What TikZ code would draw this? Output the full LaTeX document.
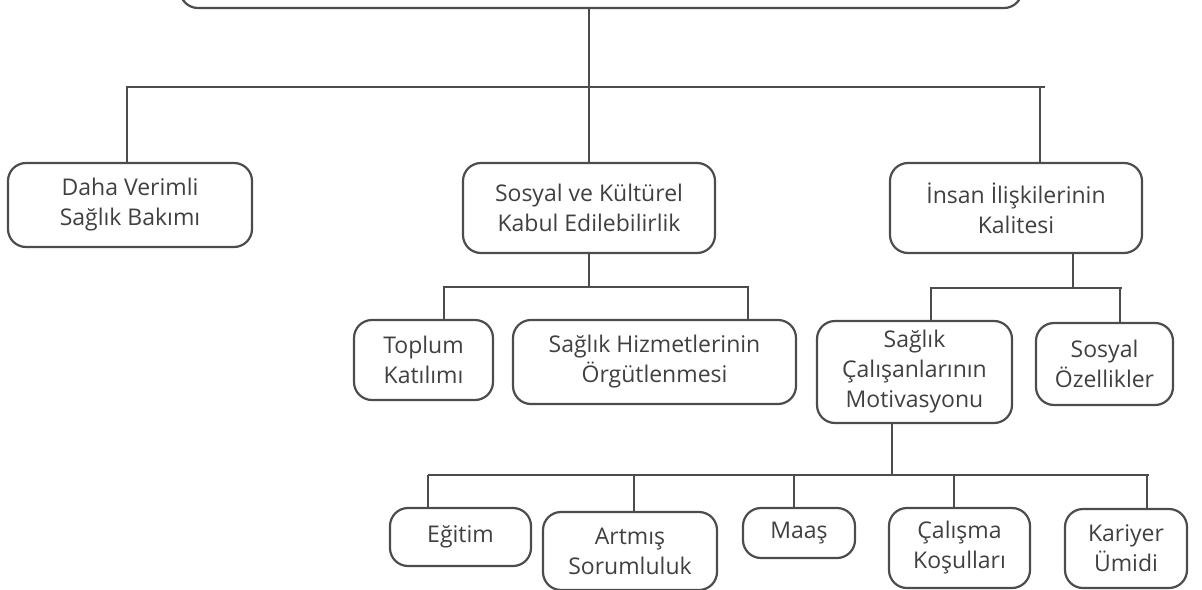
\documentclass[tikz,border=0pt]{standalone}
\usepackage{fontspec}
\setmainfont{Open Sans}
\begin{document}
\begin{tikzpicture}[x=1pt,y=-1pt,
    kutu/.style={draw=black!70,line width=2.2pt,rounded corners=18pt,text=black!75,
      align=center,inner sep=0pt,font=\fontsize{23}{30}\selectfont},
    bag/.style={draw=black!70,line width=2.2pt}]
    \useasboundingbox (0,0) rectangle (1202,589);
    \clip (0,0) rectangle (1202,589);

    \foreach \n/\x/\y/\w/\h/\t in {
        ust/601/-16/842/48/{},
        daha/130/205/244/84/{Daha Verimli\\Sağlık Bakımı},
        sosyal/589/208/252/90/{Sosyal ve Kültürel\\Kabul Edilebilirlik},
        insan/1016/208/252/90/{İnsan İlişkilerinin\\Kalitesi},
        toplum/423.5/360/139/80/{Toplum\\Katılımı},
        hizmet/654.5/362/283/84/{Sağlık Hizmetlerinin\\Örgütlenmesi},
        motiv/914.5/372/195/102/{Sağlık\\Çalışanlarının\\Motivasyonu},
        ozellik/1104.5/364/137/82/{Sosyal\\Özellikler},
        egitim/460.5/537/141/58/{Eğitim},
        artmis/630/551/174/78/{Artmış\\Sorumluluk},
        maas/799/533/112/50/{Maaş},
        calisma/959.5/548/141/80/{Çalışma\\Koşulları},
        kariyer/1126/548.5/122/79/{Kariyer\\Ümidi}} {
      \node[kutu,minimum width=\w,minimum height=\h] (\n) at (\x,\y) {\t};
    }

    \coordinate (a1) at (127,87);
    \coordinate (a2) at (1045,87);
    \coordinate (a3) at (1040,87);
    \draw[bag] (ust.south -| sosyal.north) -- (sosyal.north);
    \draw[bag] (daha.north -| a1) -- (a1) -- (a2);
    \draw[bag] (a3) -- (a3 |- insan.north);

    \coordinate (b1) at (444,287);
    \coordinate (b2) at (748,287);
    \draw[bag] (sosyal.south) -- (sosyal.south |- b1);
    \draw[bag] (toplum.north -| b1) -- (b1) -- (b2) -- (b2 |- hizmet.north);

    \coordinate (c0) at (1073,288);
    \coordinate (c1) at (931,288);
    \coordinate (c2) at (1122,288);
    \coordinate (c3) at (1120,288);
    \draw[bag] (c0 |- insan.south) -- (c0);
    \draw[bag] (motiv.north -| c1) -- (c1) -- (c2);
    \draw[bag] (c3) -- (c3 |- ozellik.north);

    \coordinate (d0) at (892,475);
    \coordinate (d1) at (428,475);
    \coordinate (d2) at (1149,475);
    \draw[bag] (d0 |- motiv.south) -- (d0);
    \draw[bag] (d1) -- (d2);
    \foreach \n/\x in {egitim/428,artmis/634,maas/794,calisma/954,kariyer/1147} {
      \coordinate (d_\n) at (\x,475);
      \draw[bag] (d_\n) -- (d_\n |- \n.north);
    }
\end{tikzpicture}
\end{document}
